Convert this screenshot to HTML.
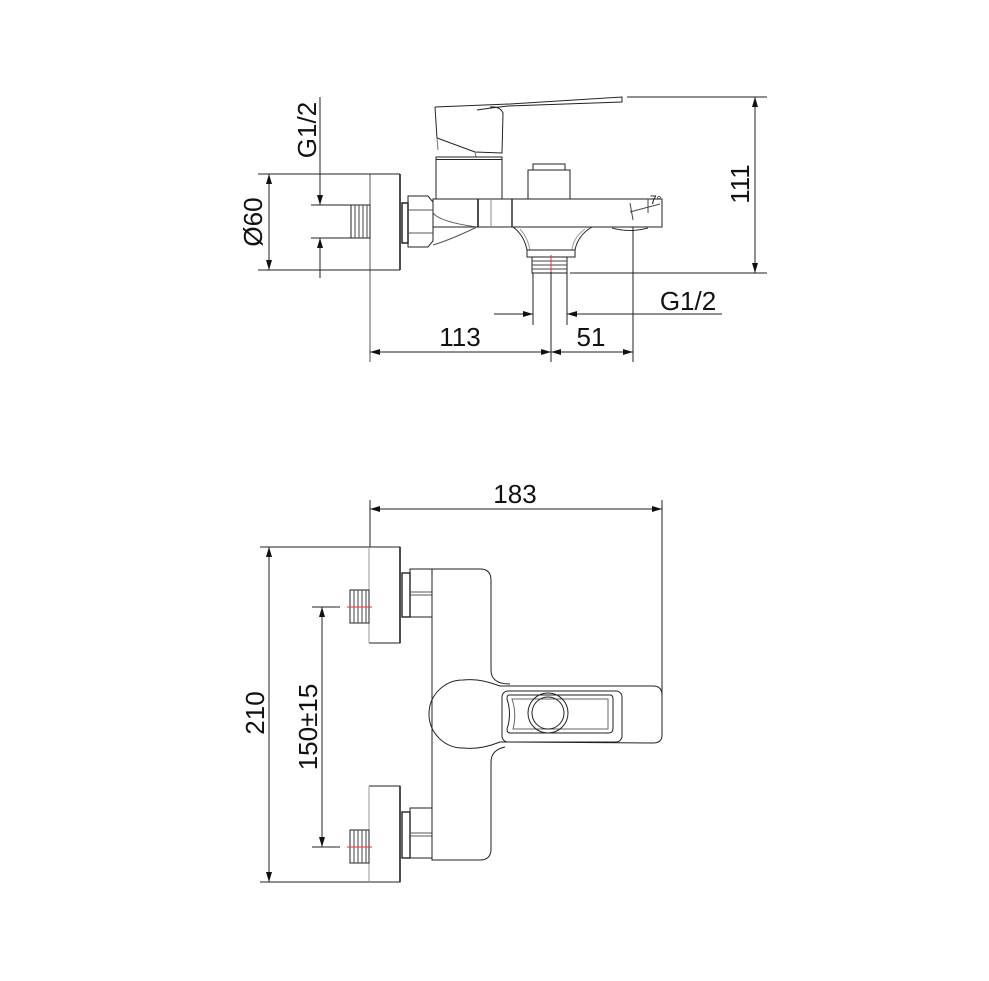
<!DOCTYPE html>
<html><head><meta charset="utf-8"><style>
html,body{margin:0;padding:0;background:#fff}
svg{display:block}
text{font-family:"Liberation Sans",sans-serif;fill:#111}
</style></head><body>
<svg width="989" height="981" viewBox="0 0 989 981" xmlns="http://www.w3.org/2000/svg">
<defs>
<marker id="a" viewBox="0 0 10 6" refX="10" refY="3" markerWidth="14" markerHeight="6" markerUnits="userSpaceOnUse" orient="auto-start-reverse"><path d="M0,0 L10,3 L0,6 Z" fill="#111"/></marker>
</defs>
<g fill="none" stroke="#222" stroke-width="1">
<!-- ===== TOP VIEW ===== -->
<!-- lever -->
<path d="M435,107 L510,104 L622,97 L622,102 L508,106 Q490,108 477,110" />
<path d="M435,107 L437,138 L475,152 L502,153 L503,113 Q500,106 490,107" />
<path d="M437,138 L438,150 M475,152 L476,157" stroke="#777"/>
<!-- cylinder -->
<rect x="436" y="157" width="66" height="42"/>
<line x1="436" y1="159.5" x2="502" y2="159.5"/>
<!-- cartridge -->
<rect x="528" y="170" width="42" height="29"/>
<rect x="533" y="164" width="32" height="6"/>
<!-- body bar -->
<rect x="433" y="199" width="229" height="28"/>
<line x1="478" y1="199" x2="478" y2="227" stroke-width="1.6"/>
<line x1="491" y1="199" x2="491" y2="227" stroke="#888"/>
<line x1="512" y1="199" x2="512" y2="227" stroke-width="1.4"/>
<path d="M433,213 Q440,222 477,227 M433,245 Q450,240 477,227" stroke="#555"/>
<!-- spout end -->
<path d="M648,199 L648,213 M630,212 L660,204 M630,203 L633,220" stroke="#444"/>
<path d="M612,228 Q630,233 648,228" stroke="#333"/>
<text x="650" y="204" font-size="12" stroke="none">7°</text>
<!-- outlet -->
<path d="M513,227 Q524,235 527,250 L575,250 Q578,235 592,227" />
<path d="M520,229 Q528,238 530,250 M585,229 Q573,238 572,250" stroke="#999"/>
<rect x="527" y="250" width="48" height="7"/>
<rect x="532" y="257" width="35" height="16"/>
<path d="M532,261 H567 M532,265 H567 M532,269 H567" stroke="#444"/>
<line x1="533" y1="273" x2="533" y2="325"/>
<line x1="567" y1="273" x2="567" y2="325"/>
<line x1="551" y1="255" x2="551" y2="272" stroke="#e33"/>
<line x1="551" y1="272" x2="551" y2="362"/>
<!-- nut & ring -->
<rect x="402" y="203" width="6" height="40" stroke-width="1.5"/>
<path d="M408,196 L428,196 L433,202 L433,241 L428,247 L408,247 Z"/>
<path d="M408,210 H433 M408,233 H433" stroke="#555"/>
<!-- wall plate -->
<line x1="400" y1="174" x2="400" y2="270" stroke-width="1.6"/>
<line x1="370" y1="174" x2="370" y2="362" stroke="#555"/>
<!-- thread -->
<rect x="351" y="205" width="19" height="33"/>
<path d="M355,205 V238 M359,205 V238 M363,205 V238 M367,205 V238" stroke="#444"/>
<!-- dims -->
<line x1="258" y1="174" x2="400" y2="174"/>
<line x1="258" y1="270" x2="400" y2="270"/>
<line x1="269" y1="174" x2="269" y2="270" marker-start="url(#a)" marker-end="url(#a)"/>
<line x1="311" y1="205" x2="351" y2="205"/>
<line x1="311" y1="238" x2="351" y2="238"/>
<line x1="320" y1="97" x2="320" y2="205" marker-end="url(#a)"/>
<line x1="320" y1="278" x2="320" y2="238" marker-end="url(#a)"/>
<line x1="627" y1="97" x2="767" y2="97"/>
<line x1="570" y1="273" x2="767" y2="273"/>
<line x1="755" y1="97" x2="755" y2="273" marker-start="url(#a)" marker-end="url(#a)"/>
<line x1="494" y1="314" x2="533" y2="314" marker-end="url(#a)"/>
<line x1="722" y1="314" x2="567" y2="314" marker-end="url(#a)"/>
<line x1="633" y1="227" x2="633" y2="362"/>
<line x1="370" y1="352" x2="551" y2="352" marker-start="url(#a)" marker-end="url(#a)"/>
<line x1="551" y1="352" x2="633" y2="352" marker-start="url(#a)" marker-end="url(#a)"/>

<!-- ===== BOTTOM VIEW ===== -->
<line x1="370" y1="500" x2="370" y2="547"/>
<line x1="662" y1="500" x2="662" y2="700"/>
<line x1="370" y1="509" x2="662" y2="509" marker-start="url(#a)" marker-end="url(#a)"/>
<line x1="260" y1="547" x2="400" y2="547"/>
<line x1="260" y1="882" x2="400" y2="882"/>
<line x1="269" y1="547" x2="269" y2="882" marker-start="url(#a)" marker-end="url(#a)"/>
<line x1="312" y1="607" x2="340" y2="607"/>
<line x1="312" y1="847" x2="340" y2="847"/>
<line x1="322" y1="607" x2="322" y2="847" marker-start="url(#a)" marker-end="url(#a)"/>
<!-- plates -->
<path d="M369,547 H400 V643 H369" />
<line x1="369" y1="547" x2="369" y2="643" stroke="#999"/>
<path d="M369,786 H400 V882 H369" />
<line x1="369" y1="786" x2="369" y2="882" stroke="#999"/>
<line x1="400" y1="547" x2="400" y2="643" stroke-width="1.6"/>
<line x1="400" y1="786" x2="400" y2="882" stroke-width="1.6"/>
<!-- threads -->
<rect x="350" y="590" width="19" height="33"/>
<path d="M354,590 V623 M358,590 V623 M362,590 V623 M366,590 V623" stroke="#444"/>
<line x1="347" y1="607" x2="372" y2="607" stroke="#e33"/>
<rect x="350" y="830" width="19" height="33"/>
<path d="M354,830 V863 M358,830 V863 M362,830 V863 M366,830 V863" stroke="#444"/>
<line x1="347" y1="847" x2="372" y2="847" stroke="#e33"/>
<!-- nuts -->
<rect x="402" y="573" width="8" height="44" stroke-width="1.4"/>
<rect x="410" y="569" width="22" height="48"/>
<path d="M410,592 H432 M410,595 H432" stroke="#555"/>
<rect x="402" y="812" width="8" height="46" stroke-width="1.4"/>
<rect x="410" y="808" width="22" height="50"/>
<path d="M410,833 H432 M410,836 H432" stroke="#555"/>
<!-- body -->
<path d="M432,569 V860 H480 Q491,860 491,849 V762 Q491,750 505,747"/>
<path d="M432,569 H480 Q491,569 491,580 V670 Q491,684 510,684"/>
<!-- handle -->
<path d="M463,680 Q480,678 500,686 L653,686 Q662,686 662,695 L662,735 Q662,743 653,743 L500,742 Q480,750 463,748 A34,34 0 0 1 463,680 Z"/>
<rect x="502" y="691" width="120" height="51" rx="6"/>
<path d="M509,695 H610 Q613,695 613,699 V728 Q613,733 609,733 H510 Q507,733 507,729 Q512,714 507,699 Q507,695 509,695 Z"/>
<path d="M512,699 H608 V729 H513 Q517,714 512,699 Z" stroke="#666"/>
<circle cx="548" cy="713" r="20"/>
<circle cx="548" cy="713" r="16"/>
</g>
<g stroke="none">
<text x="460" y="346" font-size="26" text-anchor="middle">113</text>
<text x="591" y="346" font-size="26" text-anchor="middle">51</text>
<text x="688" y="310" font-size="26" text-anchor="middle">G1/2</text>
<text transform="translate(749,184) rotate(-90)" font-size="26" text-anchor="middle">111</text>
<text transform="translate(262,222) rotate(-90)" font-size="26" text-anchor="middle">Ø60</text>
<text transform="translate(316,130) rotate(-90)" font-size="26" text-anchor="middle">G1/2</text>
<text x="515" y="503" font-size="26" text-anchor="middle">183</text>
<text transform="translate(264,713) rotate(-90)" font-size="26" text-anchor="middle">210</text>
<text transform="translate(317,727) rotate(-90)" font-size="26" text-anchor="middle">150±15</text>
</g>
</svg>
</body></html>
